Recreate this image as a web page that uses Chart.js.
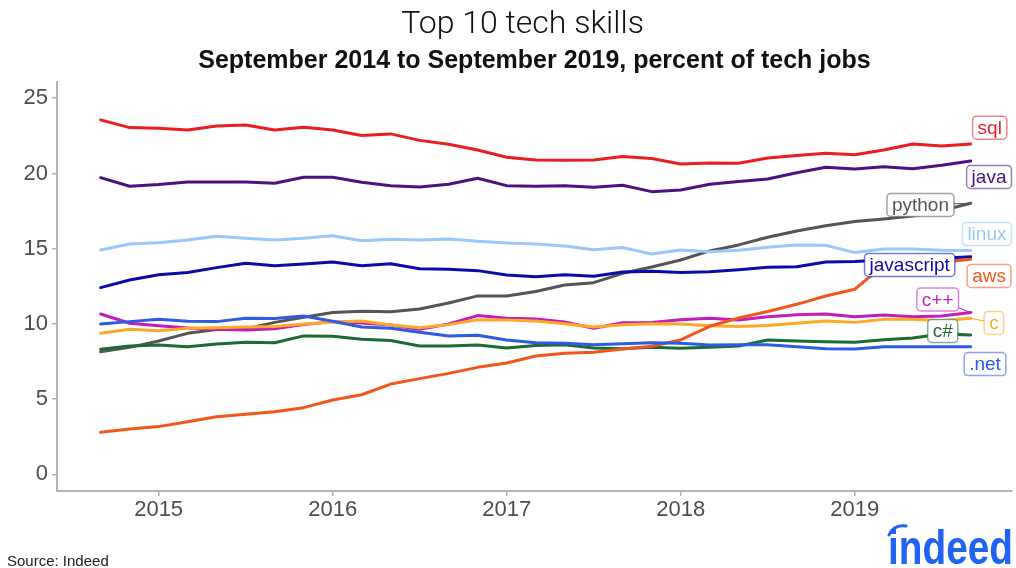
<!DOCTYPE html>
<html lang="en">
<head>
    <meta charset="UTF-8">
    <title>Top 10 tech skills</title>
    <script src="https://cdn.jsdelivr.net/npm/chart.js"></script>
    <style>
        body {
            margin: 0;
            background: #ffffff;
        }
        canvas {
            display: block;
        }
    </style>
</head>
<body>
    <canvas id="skillsChart" width="1016" height="568"></canvas>

    <script>
        // months sampled every two months, Sep 2014 .. Sep 2019
        const months = [
            '2014-09', '2014-11', '2015-01', '2015-03', '2015-05', '2015-07', '2015-09', '2015-11',
            '2016-01', '2016-03', '2016-05', '2016-07', '2016-09', '2016-11',
            '2017-01', '2017-03', '2017-05', '2017-07', '2017-09', '2017-11',
            '2018-01', '2018-03', '2018-05', '2018-07', '2018-09', '2018-11',
            '2019-01', '2019-03', '2019-05', '2019-07', '2019-09'
        ];

        const xTicks = [2015, 2016, 2017, 2018, 2019];
        const yTicks = [0, 5, 10, 15, 20, 25];

        // percent of tech jobs
        const sql = [23.56, 23.05, 23.0, 22.89, 23.16, 23.22, 22.89, 23.07, 22.89, 22.52, 22.63, 22.2, 21.94, 21.56, 21.08, 20.9,
            20.88, 20.9, 21.12, 20.99, 20.63, 20.7, 20.68, 21.03, 21.2, 21.34, 21.25, 21.56, 21.96, 21.83, 21.96];
        const java = [19.72, 19.15, 19.26, 19.43, 19.43, 19.43, 19.35, 19.75, 19.75, 19.41, 19.19, 19.1, 19.28, 19.68, 19.19, 19.15,
            19.19, 19.08, 19.21, 18.79, 18.9, 19.28, 19.46, 19.63, 20.05, 20.41, 20.3, 20.45, 20.32, 20.54, 20.83];
        const python = [8.15, 8.44, 8.86, 9.37, 9.62, 9.66, 10.1, 10.44, 10.75, 10.84, 10.81, 10.99, 11.39, 11.86, 11.86, 12.15,
            12.59, 12.74, 13.36, 13.78, 14.25, 14.85, 15.25, 15.76, 16.18, 16.53, 16.8, 16.97, 17.17, 17.53, 18.02];
        const linux = [14.91, 15.31, 15.4, 15.58, 15.82, 15.69, 15.58, 15.69, 15.86, 15.53, 15.62, 15.58, 15.65, 15.49, 15.38, 15.31,
            15.18, 14.93, 15.07, 14.65, 14.91, 14.8, 14.89, 15.09, 15.25, 15.23, 14.74, 14.98, 14.98, 14.89, 14.87];
        const javascript = [12.41, 12.92, 13.27, 13.41, 13.74, 14.03, 13.87, 13.98, 14.12, 13.87, 14.0, 13.67, 13.63, 13.54, 13.25, 13.14,
            13.27, 13.16, 13.45, 13.5, 13.41, 13.47, 13.6, 13.76, 13.8, 14.12, 14.14, 14.25, 14.25, 14.36, 14.47];
        const aws = [2.79, 3.01, 3.17, 3.5, 3.83, 3.99, 4.16, 4.43, 4.94, 5.29, 6.0, 6.36, 6.71, 7.11, 7.4, 7.87,
            8.04, 8.11, 8.33, 8.51, 8.93, 9.84, 10.39, 10.82, 11.3, 11.85, 12.3, 13.9, 14.05, 14.1, 14.3];
        const cpp = [10.66, 10.04, 9.88, 9.73, 9.64, 9.59, 9.68, 9.95, 10.15, 10.06, 9.93, 9.64, 9.99, 10.55, 10.37, 10.33,
            10.13, 9.71, 10.08, 10.1, 10.28, 10.37, 10.26, 10.48, 10.61, 10.66, 10.48, 10.59, 10.48, 10.52, 10.75];
        const c = [9.37, 9.64, 9.55, 9.71, 9.75, 9.79, 9.82, 9.99, 10.13, 10.19, 9.93, 9.75, 9.95, 10.28, 10.26, 10.19,
            10.01, 9.79, 9.95, 10.01, 9.99, 9.88, 9.82, 9.9, 10.04, 10.19, 10.1, 10.3, 10.3, 10.21, 10.37];
        const csharp = [8.31, 8.53, 8.6, 8.48, 8.66, 8.78, 8.75, 9.2, 9.18, 8.98, 8.89, 8.53, 8.53, 8.6, 8.4, 8.57,
            8.62, 8.4, 8.35, 8.44, 8.38, 8.44, 8.53, 8.93, 8.86, 8.82, 8.78, 8.95, 9.06, 9.33, 9.26];
        const dotnet = [9.99, 10.15, 10.3, 10.17, 10.15, 10.37, 10.35, 10.52, 10.17, 9.79, 9.71, 9.44, 9.2, 9.24, 8.93, 8.75,
            8.71, 8.62, 8.68, 8.75, 8.71, 8.6, 8.62, 8.62, 8.48, 8.35, 8.33, 8.48, 8.48, 8.48, 8.48];

        const skillNames = ['.net', 'aws', 'c', 'c#', 'c++', 'java', 'javascript', 'linux', 'python', 'sql'];
        const skillValues = [dotnet, aws, c, csharp, cpp, java, javascript, linux, python, sql];
        const skillColors = ['#2d5be3', '#f2561d', '#fba927', '#1b6b32', '#c21cbc', '#4b1280', '#0b0ba8', '#99c8fa', '#555555', '#ea1c24'];

        // where ggrepel put each name tag (in data units), and whether it has a leader line
        const tagSpots = {
            'sql':        { x: 2019.776, y: 23.04 },
            'java':       { x: 2019.772, y: 19.77 },
            'python':     { x: 2019.378, y: 17.91, seg: true },
            'linux':      { x: 2019.76,  y: 15.98 },
            'javascript': { x: 2019.316, y: 13.92 },
            'aws':        { x: 2019.772, y: 13.19 },
            'c++':        { x: 2019.477, y: 11.62, seg: true },
            'c':          { x: 2019.80,  y: 10.06, seg: true },
            'c#':         { x: 2019.506, y: 9.53,  seg: true },
            '.net':       { x: 2019.749, y: 7.33 }
        };

        const monthToYear = m => {
            const [yy, mm] = m.split('-').map(Number);
            return yy + (mm - 1) / 12;
        };
        const xValues = months.map(monthToYear);

        const datasets = skillNames.map((name, i) => ({
            label: name,
            data: skillValues[i].map((v, k) => ({ x: xValues[k], y: v })),
            borderColor: skillColors[i],
            backgroundColor: skillColors[i],
            borderWidth: 3,
            pointRadius: 0,
            tension: 0,
            borderJoinStyle: 'round',
            borderCapStyle: 'round'
        }));

        const sans = "'Liberation Sans', Arial, Helvetica, sans-serif";

        // titles, source note and logo
        const decorPlugin = {
            id: 'decor',
            afterDraw(chart) {
                const ctx = chart.ctx;
                const area = chart.chartArea;
                const mid = (area.left + area.right) / 2;
                ctx.save();
                ctx.fillStyle = '#111111';
                ctx.textAlign = 'center';
                ctx.textBaseline = 'alphabetic';
                ctx.font = "300 32px Roboto, " + sans;
                ctx.fillText('Top 10 tech skills', mid - 12, 33);
                ctx.font = "bold 25px " + sans;
                ctx.fillText('September 2014 to September 2019, percent of tech jobs', mid, 68);

                ctx.textAlign = 'left';
                ctx.fillStyle = '#222222';
                ctx.font = "15px " + sans;
                ctx.fillText('Source: Indeed', 7, 566);

                // indeed logo as text
                ctx.fillStyle = '#2164f3';
                ctx.font = "bold 48px " + sans;
                const w = ctx.measureText('indeed').width;
                ctx.translate(888, 564);
                ctx.scale(125 / w, 1);
                ctx.fillText('indeed', 0, 0);
                ctx.restore();

                ctx.save();
                ctx.strokeStyle = '#2164f3';
                ctx.lineWidth = 3;
                ctx.lineCap = 'round';
                ctx.beginPath();
                ctx.moveTo(889, 535);
                ctx.quadraticCurveTo(894, 524, 906, 526);
                ctx.stroke();
                ctx.restore();
            }
        };

        // boxed skill names at the end of the lines
        const tagPlugin = {
            id: 'tags',
            afterDatasetsDraw(chart) {
                const ctx = chart.ctx;
                const xs = chart.scales.x;
                const ys = chart.scales.y;
                ctx.save();
                ctx.font = "19px " + sans;
                ctx.textAlign = 'center';
                ctx.textBaseline = 'middle';
                skillNames.forEach((name, i) => {
                    const spot = tagSpots[name];
                    const cx = xs.getPixelForValue(spot.x);
                    const cy = ys.getPixelForValue(spot.y);
                    const vals = skillValues[i];
                    const px = xs.getPixelForValue(xValues[xValues.length - 1]);
                    const py = ys.getPixelForValue(vals[vals.length - 1]);
                    const color = skillColors[i];
                    const w = ctx.measureText(name).width + 10;
                    const h = 23;

                    if (spot.seg) {
                        ctx.strokeStyle = color;
                        ctx.lineWidth = 1;
                        ctx.beginPath();
                        ctx.moveTo(cx, cy);
                        ctx.lineTo(px, py);
                        ctx.stroke();
                    }

                    ctx.beginPath();
                    ctx.roundRect(cx - w / 2, cy - h / 2, w, h, 4);
                    ctx.fillStyle = '#ffffff';
                    ctx.fill();
                    ctx.globalAlpha = 0.55;
                    ctx.strokeStyle = color;
                    ctx.lineWidth = 1.5;
                    ctx.stroke();
                    ctx.globalAlpha = 1;
                    ctx.fillStyle = color;
                    ctx.fillText(name, cx, cy + 1);
                });
                ctx.restore();
            }
        };

        const axisGrey = '#b3b3b3';
        const tickFont = { family: sans, size: 22 };

        new Chart(document.getElementById('skillsChart').getContext('2d'), {
            type: 'line',
            data: { datasets },
            options: {
                responsive: false,
                animation: false,
                layout: { padding: { top: 82, right: 4, left: 0, bottom: 0 } },
                plugins: {
                    legend: { display: false },
                    tooltip: { enabled: false },
                    title: { display: false }
                },
                scales: {
                    x: {
                        type: 'linear',
                        min: 2014.416,
                        max: 2019.904,
                        afterBuildTicks: s => { s.ticks = xTicks.map(v => ({ value: v })); },
                        afterFit: s => { s.height = 77; },
                        grid: { drawOnChartArea: false, drawTicks: true, tickLength: 5, color: axisGrey, lineWidth: 1.5 },
                        border: { display: true, color: axisGrey, width: 2 },
                        ticks: {
                            font: tickFont,
                            color: '#4d4d4d',
                            padding: 1,
                            maxRotation: 0,
                            autoSkip: false,
                            callback: v => String(v)
                        }
                    },
                    y: {
                        type: 'linear',
                        min: -1.11,
                        max: 26.08,
                        afterBuildTicks: s => { s.ticks = yTicks.map(v => ({ value: v })); },
                        afterFit: s => { s.width = 57; },
                        grid: { drawOnChartArea: false, drawTicks: true, tickLength: 5, color: axisGrey, lineWidth: 1.5 },
                        border: { display: true, color: axisGrey, width: 2 },
                        ticks: {
                            font: tickFont,
                            color: '#4d4d4d',
                            padding: 4,
                            callback: v => String(v)
                        }
                    }
                }
            },
            plugins: [tagPlugin, decorPlugin]
        });
    </script>
</body>
</html>
